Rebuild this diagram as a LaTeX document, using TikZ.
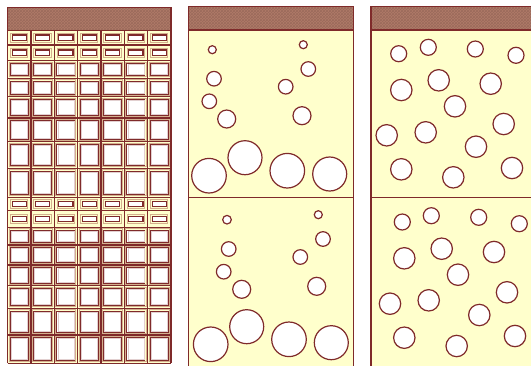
\documentclass[tikz,border=0pt]{standalone}
\usetikzlibrary{patterns}
\definecolor{dred}{HTML}{7F2A2A}
\definecolor{cream}{HTML}{FFFFCC}
\definecolor{hatchc}{HTML}{B07A68}
\definecolor{tanc}{HTML}{D4B08E}
\definecolor{pinkc}{HTML}{E2D0D0}
\begin{document}
\begin{tikzpicture}[x=1pt,y=-1pt,
  band/.style={fill=hatchc,draw=dred,line width=1.3pt},
  bandtex/.style={pattern=crosshatch,pattern color=hatchc!88!black},
  panel/.style={fill=cream,draw=dred,line width=1.3pt},
  gridline/.style={draw=dred,line width=1.3pt},
  tanline/.style={draw=tanc,line width=1pt},
  winline/.style={draw=dred,fill=white,line width=1pt},
  pinkline/.style={draw=pinkc,line width=0.5pt},
  slotline/.style={draw=dred,fill=white,line width=1.2pt},
  bub/.style={draw=dred,fill=white,line width=1.2pt}]
\useasboundingbox (0,0) rectangle (531,365);
% ---------- panel 1 ----------
\fill[cream] (7.5,30.7) rectangle (171,363.3);
% slot rows
\foreach \ya/\yb in {30.7/45,45/60.7,197.3/210.7,210.7/227.3}{
  \foreach \c in {0,...,6}{
    \pgfmathsetmacro\xa{7.5+\c*23.357}
    \pgfmathsetmacro\xb{\xa+23.357}
    \pgfmathsetmacro\ym{(\ya+\yb)/2}
    \draw[tanline] (\xa+3,\ym-4.2) rectangle (\xb-3,\ym+4.2);
    \draw[slotline] (\xa+4.6,\ym-2.8) rectangle (\xb-4.6,\ym+2.8);
  }
}
% window rows
\foreach \ya/\yb in {60.7/78.3,78.3/96.7,96.7/118,118/141.7,141.7/168.3,168.3/197.3,
                     227.3/245,245/265,265/285.7,285.7/308.3,308.3/335,335/363.3}{
  \foreach \c in {0,...,6}{
    \pgfmathsetmacro\xa{7.5+\c*23.357}
    \pgfmathsetmacro\xb{\xa+23.357}
    \draw[tanline] (\xa+1.6,\ya+1.6) rectangle (\xb-1.6,\yb-1.6);
    \draw[winline] (\xa+2.7,\ya+2.7) rectangle (\xb-2.7,\yb-2.7);
    \draw[pinkline] (\xa+3.6,\ya+3.6) rectangle (\xb-3.6,\yb-3.6);
  }
}
% grid
\foreach \y in {30.7,45,60.7,78.3,96.7,118,141.7,168.3,197.3,210.7,227.3,245,265,285.7,308.3,335,363.3}
  \draw[gridline] (7.5,\y) -- (171,\y);
\foreach \c in {0,...,7}
  \draw[gridline] (7.5+\c*23.357,30.7) -- (7.5+\c*23.357,363.3);
\draw[band] (7.5,7.3) rectangle (171,30.7);
\fill[bandtex] (7.5,7.3) rectangle (171,30.7);
\draw[dred,line width=1.3pt] (7.5,7.3) rectangle (171,30.7);
% ---------- panel 2 ----------
\draw[panel] (188.3,30) rectangle (353.3,368);
\draw[band] (188.3,6.7) rectangle (353.3,30);
\fill[bandtex] (188.3,6.7) rectangle (353.3,30);
\draw[dred,line width=1.3pt] (188.3,6.7) rectangle (353.3,30);
\draw[dred,line width=1.3pt] (188.3,197.3) -- (353.3,197.3);
\foreach \x/\y/\r in {
  212.3/49.7/4, 214/78.7/7.3, 209.3/101.3/7.3, 226.7/119/9,
  209/175.7/17.3, 245/157.7/17, 287.3/170.7/17.3, 329.7/174/17,
  303.3/44.7/4, 308.3/69/7.3, 285.7/86.7/7.3, 302/115.7/9,
  227/219.7/4.3, 228.7/249/7.3, 223.7/271.7/7.3, 241.7/289.3/9,
  210.7/344.3/17.3, 246.7/326.7/17, 289/339.3/17.3, 331.3/342.7/17,
  318.3/214.7/4, 323/239/7.3, 300.3/257/7.3, 316.7/286.3/9}
  \draw[bub] (\x,\y) circle[radius=\r];
% ---------- panel 3 ----------
\draw[panel] (371,30) rectangle (540,368);
\draw[band] (371,6.7) rectangle (540,30);
\fill[bandtex] (371,6.7) rectangle (540,30);
\draw[dred,line width=1.3pt] (371,6.7) rectangle (540,30);
\draw[dred,line width=1.3pt] (371,197.3) -- (540,197.3);
\foreach \x/\y in {398.7/53.7, 428.3/47.3, 475.3/49, 516/55.3,
                   402.3/222, 431.3/215.7, 478.7/217.3, 519.3/223.7}
  \draw[bub] (\x,\y) circle[radius=8];
\foreach \x/\y in {401.3/90, 438.7/80.3, 490.7/83.7, 455/106.3, 386.7/135.3,
                   425.7/132.3, 503.7/124, 476/146.7, 401.3/169.3, 453.3/177.3, 512/168,
                   404.3/258.3, 441.7/248.7, 494/252, 458/274.7, 390/303.7,
                   428.7/300.3, 507/292.3, 479.3/315, 404.3/337.7, 456.7/346, 515/336}
  \draw[bub] (\x,\y) circle[radius=10.7];
\end{tikzpicture}
\end{document}
